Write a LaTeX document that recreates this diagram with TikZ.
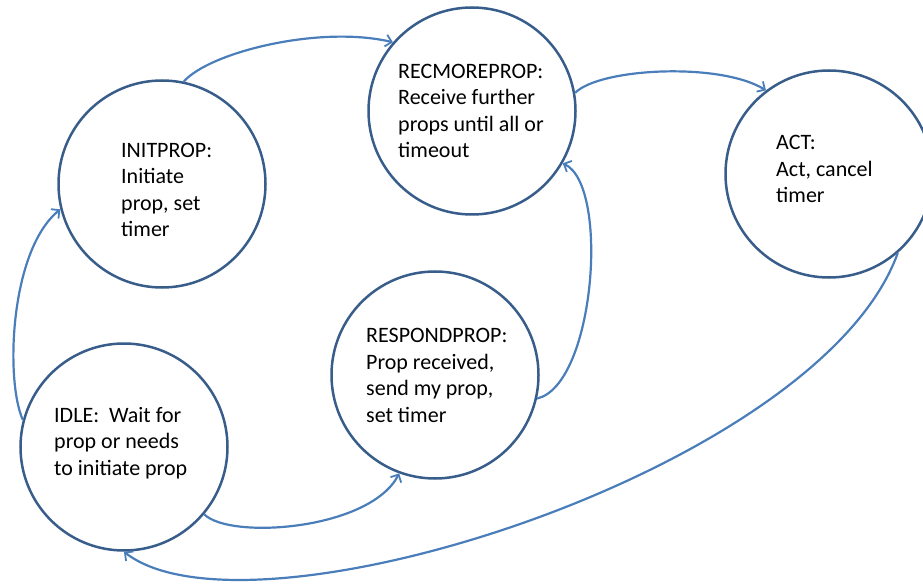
\documentclass[tikz,border=0pt]{standalone}
\usepackage{fontspec}
\setmainfont{Carlito}
\usetikzlibrary{arrows.meta}
\definecolor{ringblue}{RGB}{56,93,138}
\definecolor{linkblue}{RGB}{74,126,187}
\begin{document}
\begin{tikzpicture}[x=1pt,y=-1pt,
  state/.style={circle,draw=ringblue,line width=2.5pt,minimum size=207pt,inner sep=0pt},
  lbl/.style={anchor=base west,align=left,inner sep=0pt,font=\fontsize{22}{26.5}\selectfont},
  trans/.style={draw=linkblue,line width=2.2pt,-{Straight Barb[length=6pt,width=12pt,line width=1.8pt]}}]
\useasboundingbox (0,0) rectangle (923,585);
% states
\node[state] (init) at (162,184) {};
\node[state] (rec) at (472,111) {};
\node[state] (act) at (829,174) {};
\node[state] (resp) at (435,375) {};
\node[state] (idle) at (124,447) {};
% labels, placed at the baseline of their last line
\node[lbl] (init-txt) at (121,237) {INITPROP:\\Initiate\\prop, set\\timer};
\node[lbl] (rec-txt) at (398,158) {RECMOREPROP:\\Receive further\\props until all or\\timeout};
\node[lbl] (act-txt) at (776,203) {ACT:\\Act, cancel\\timer};
\node[lbl] (resp-txt) at (366,422) {RESPONDPROP:\\Prop received,\\send my prop,\\set timer};
\node[lbl] (idle-txt) at (54,475) {IDLE:\ \ Wait for\\prop or needs\\to initiate prop};
% transitions
\draw[trans] (init.78) .. controls (210,52) and (320,25) .. (rec.139);
\draw[trans] (rec.10) .. controls (600,68) and (720,62) .. (act.127);
\draw[trans] (resp.-13) .. controls (595,385) and (610,185) .. (rec.-30);
\draw[trans] (idle.165) .. controls (5,380) and (10,250) .. (init.194);
\draw[trans] (idle.-40) .. controls (230,540) and (370,530) .. (resp.250);
\draw[trans] (act.-49) .. controls (820,470) and (250,650) .. (idle.270);
\end{tikzpicture}
\end{document}
